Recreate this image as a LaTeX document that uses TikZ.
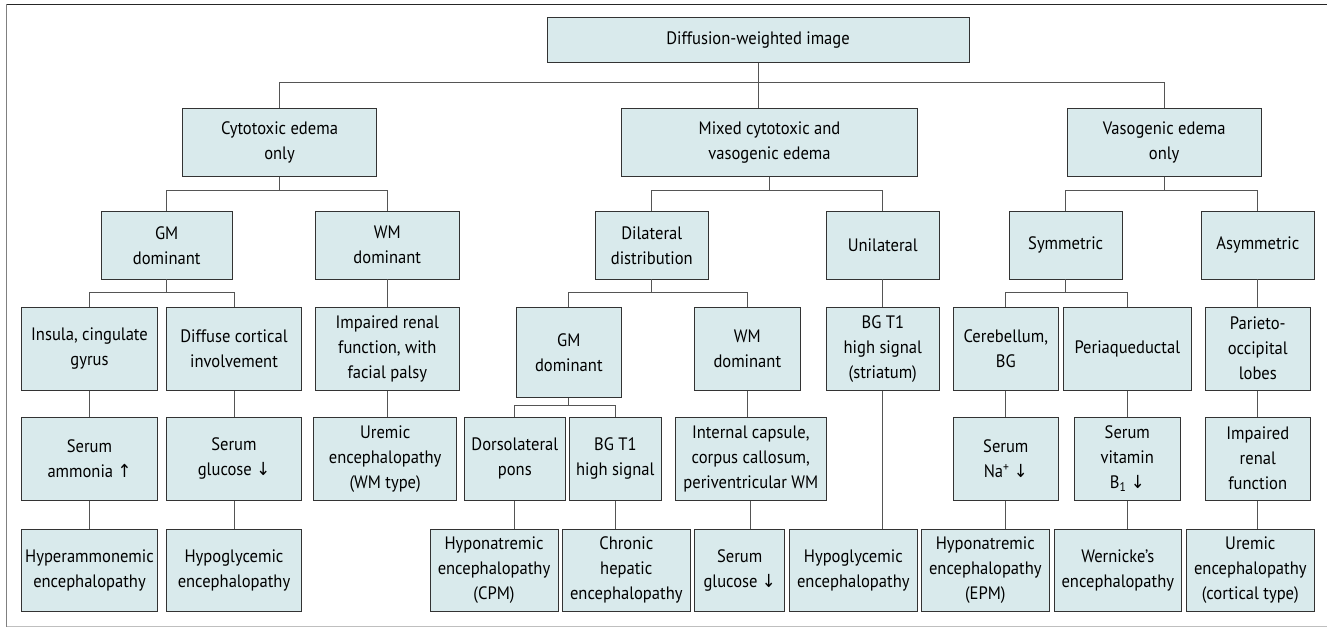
\documentclass[tikz,border=0pt]{standalone}
\usepackage{fontspec}
\setmainfont{PT Sans}[FakeStretch=0.92]
\newfontfamily\arrowfont{DejaVu Sans}[FakeStretch=0.92]
\usepackage{tikz}
\usetikzlibrary{calc}
\definecolor{dwibox}{HTML}{D9EAEC}
\definecolor{dwiline}{HTML}{333333}
\definecolor{dwilink}{HTML}{555555}
\newcommand{\arrup}{{\arrowfont\char"2191}}
\newcommand{\arrdown}{{\arrowfont\char"2193}}

\begin{document}
\begin{tikzpicture}[
    x=1pt, y=-1pt,
    box/.style={rectangle, draw=dwiline, fill=dwibox, line width=0.9pt, align=center, inner sep=0pt, font=\fontsize{18}{25}\selectfont},
    wh/.style 2 args={minimum width=#1pt, minimum height=#2pt},
    link/.style={draw=dwilink, line width=0.9pt},
]
\useasboundingbox (0,0) rectangle (1327,628);

% Frame
\draw[line width=1.2pt, black!85] (6,4.3) -- (1327,4.3);
\draw[line width=1.2pt, black!50] (6.5,4.3) -- (6.5,626.7);
\draw[line width=1.2pt, black!25] (6.5,626.7) -- (1327,626.7);

% Root and edema types
\node[box, wh={422}{45}] (root) at (758,39.8) {Diffusion-weighted image};
\node[box, wh={194.4}{67.6}] (cyto) at (279.5,142.5) {Cytotoxic edema\\only};
\node[box, wh={295.6}{67.6}] (mixed) at (769.5,142.5) {Mixed cytotoxic and\\vasogenic edema};
\node[box, wh={194.3}{67.6}] (vaso) at (1164.2,142.5) {Vasogenic edema\\only};

% Second level
\node[box, wh={130.7}{67.3}] (gmA) at (166.7,245.3) {GM\\dominant};
\node[box, wh={143.3}{67.3}] (wmA) at (387.3,245.3) {WM\\dominant};
\node[box, wh={113}{67.3}] (dil) at (651.8,245.3) {Dilateral\\distribution};
\node[box, wh={113}{67.3}] (uni) at (882.8,245.3) {Unilateral};
\node[box, wh={112.7}{67.3}] (sym) at (1065.7,245.3) {Symmetric};
\node[box, wh={113}{67.3}] (asym) at (1257.8,245.3) {Asymmetric};

% Third level
\node[box, wh={135.6}{82.7}] (insula) at (89.5,348.7) {Insula, cingulate\\gyrus};
\node[box, wh={135.4}{82.7}] (diffuse) at (234,348.7) {Diffuse cortical\\involvement};
\node[box, wh={143.3}{82.7}] (renalA) at (387.3,348.7) {Impaired renal\\function, with\\facial palsy};
\node[box, wh={105}{90}] (gmB) at (568.8,352.3) {GM\\dominant};
\node[box, wh={105.3}{82.7}] (wmB) at (747.3,348.7) {WM\\dominant};
\node[box, wh={113}{82.7}] (bgstr) at (882.8,348.7) {BG T1\\high signal\\(striatum)};
\node[box, wh={105}{82.7}] (cereb) at (1005.8,348.7) {Cerebellum,\\BG};
\node[box, wh={128}{82.7}] (peri) at (1127.3,348.7) {Periaqueductal};
\node[box, wh={105}{82.7}] (pario) at (1257.8,348.7) {Parieto-\\occipital\\lobes};

% Fourth level
\node[box, wh={135.6}{82.7}] (ammon) at (89.5,458.7) {Serum\\ammonia \arrup};
\node[box, wh={135.4}{82.7}] (glucA) at (234,458.7) {Serum\\glucose \arrdown};
\node[box, wh={143}{82.7}] (uremA) at (385.2,458.7) {Uremic\\encephalopathy\\(WM type)};
\node[box, wh={101}{82.7}] (dors) at (514.8,458.7) {Dorsolateral\\pons};
\node[box, wh={92}{82.7}] (bgt1) at (615.3,458.7) {BG T1\\high signal};
\node[box, wh={151}{82.7}] (intcap) at (750.8,458.7) {Internal capsule,\\corpus callosum,\\periventricular WM};
\node[box, wh={105}{82.7}] (na) at (1005.8,458.7) {Serum\\Na\textsuperscript{+} \arrdown};
\node[box, wh={105.3}{82.7}] (vitb) at (1127.3,458.7) {Serum\\vitamin\\B\textsubscript{1} \arrdown};
\node[box, wh={105}{82.7}] (renalB) at (1257.8,458.7) {Impaired\\renal\\function};

% Diagnoses
\node[box, wh={135.6}{82.7}] (hyperam) at (89.5,570.3) {Hyperammonemic\\encephalopathy};
\node[box, wh={135.4}{82.7}] (hypoA) at (234,570.3) {Hypoglycemic\\encephalopathy};
\node[box, wh={128}{82.7}] (hyponaA) at (494,570.3) {Hyponatremic\\encephalopathy\\(CPM)};
\node[box, wh={128}{82.7}] (chronic) at (626.3,570.3) {Chronic\\hepatic\\encephalopathy};
\node[box, wh={90}{82.7}] (glucB) at (739.7,570.3) {Serum\\glucose \arrdown};
\node[box, wh={128}{82.7}] (hypoB) at (853.3,570.3) {Hypoglycemic\\encephalopathy};
\node[box, wh={128}{82.7}] (hyponaB) at (985.3,570.3) {Hyponatremic\\encephalopathy\\(EPM)};
\node[box, wh={127.7}{82.7}] (wern) at (1117.8,570.3) {Wernicke's\\encephalopathy};
\node[box, wh={128}{82.7}] (uremB) at (1250.3,570.3) {Uremic\\encephalopathy\\(cortical type)};

% Branches
\draw[link] (root.south) -- ++(0,19.4) -| (cyto.north);
\draw[link] (root.south) -- ++(0,19.4) -| (vaso.north);
\draw[link] (root.south) -- (root.south |- mixed.north);
\draw[link] (cyto.south) -- ++(0,13.4) -| (gmA.north);
\draw[link] (cyto.south) -- ++(0,13.4) -| (wmA.north);
\draw[link] (mixed.south) -- ++(0,13.4) -| (dil.north);
\draw[link] (mixed.south) -- ++(0,13.4) -| (uni.north);
\draw[link] (vaso.south) -- ++(0,13.4) -| (sym.north);
\draw[link] (vaso.south) -- ++(0,13.4) -| (asym.north);
\draw[link] (gmA.south) -- ++(0,12.7) -| (insula.north);
\draw[link] (gmA.south) -- ++(0,12.7) -| (diffuse.north);
\draw[link] (dil.south) -- ++(0,12.7) -| (gmB.north);
\draw[link] (dil.south) -- ++(0,12.7) -| (wmB.north);
\draw[link] (sym.south) -- ++(0,12.7) -| (cereb.north);
\draw[link] (sym.south) -- ++(0,12.7) -| (peri.north);
\draw[link] (gmB.south) -- ++(0,8) -| (dors.north);
\draw[link] (gmB.south) -- ++(0,8) -| (bgt1.north);

% Straight drops
\foreach \a/\b in {wmA/renalA, uni/bgstr, asym/pario, insula/ammon, diffuse/glucA, renalA/uremA,
    wmB/intcap, cereb/na, peri/vitb, pario/renalB, ammon/hyperam, glucA/hypoA, dors/hyponaA,
    bgt1/chronic, intcap/glucB, bgstr/hypoB, na/hyponaB, vitb/wern, renalB/uremB}
  \draw[link] (\a.south) -- (\a.south |- \b.north);

\end{tikzpicture}
\end{document}
